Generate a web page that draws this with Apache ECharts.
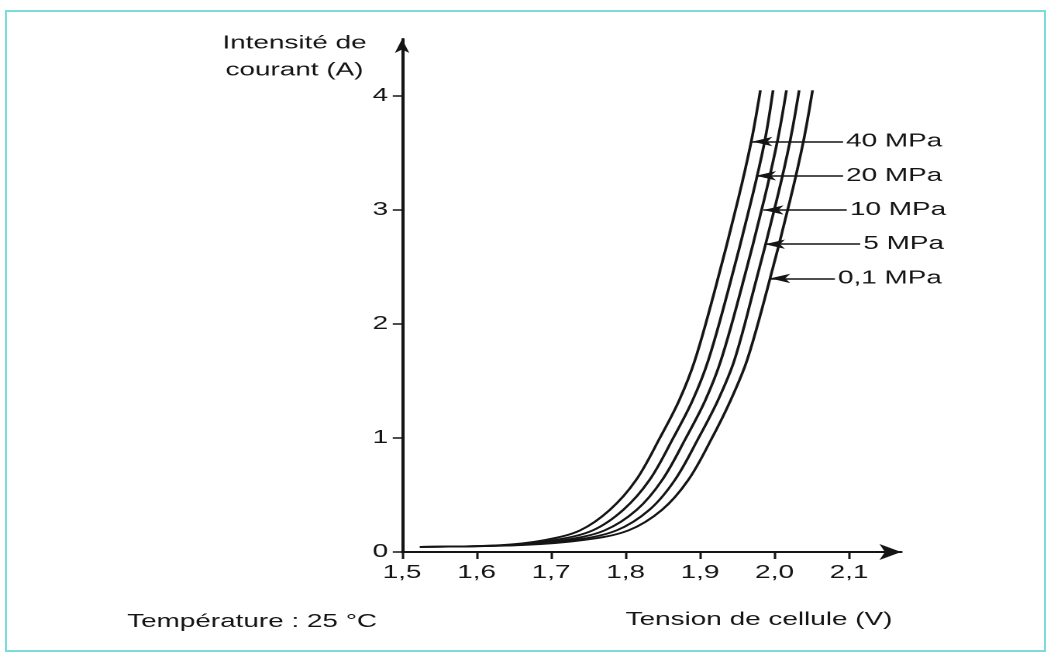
<!DOCTYPE html>
<html>
<head>
<meta charset="utf-8">
<script src="https://cdn.jsdelivr.net/npm/echarts@6/dist/echarts.min.js"></script>
<style>
  html, body { margin: 0; padding: 0; background: #fff; overflow: hidden; }
  #frame {
    position: absolute; left: 5px; top: 10px;
    width: 1041px; height: 642px;
    box-sizing: border-box;
    border: 2px solid #7adcdc;
  }
  /* the source picture is a horizontally stretched scan */
  #chart {
    position: absolute; left: 0; top: 0;
    width: 680px; height: 658px;
    transform: scaleX(1.55);
    transform-origin: 0 0;
  }
</style>
</head>
<body>
<div id="frame"></div>
<div id="chart"></div>
<script>
// current levels (A) at which each curve was read
const currentLevels = [0.045, 0.06, 0.105, 0.19, 0.37, 0.63, 1.0, 1.33, 1.68, 2.30, 3.09, 3.61, 4.05]
// cell voltage (V) of each curve at those levels
const voltage40 = [1.524, 1.632, 1.692, 1.739, 1.779, 1.814, 1.846, 1.872, 1.893, 1.920, 1.951, 1.969, 1.981]
const voltage20 = [1.524, 1.639, 1.705, 1.756, 1.797, 1.832, 1.864, 1.890, 1.911, 1.938, 1.969, 1.987, 1.998]
const voltage10 = [1.524, 1.646, 1.718, 1.772, 1.815, 1.849, 1.881, 1.907, 1.928, 1.955, 1.986, 2.004, 2.016]
const voltage5 = [1.524, 1.653, 1.731, 1.788, 1.832, 1.866, 1.898, 1.924, 1.946, 1.972, 2.003, 2.021, 2.033]
const voltage01 = [1.524, 1.660, 1.744, 1.804, 1.849, 1.884, 1.916, 1.941, 1.963, 1.990, 2.021, 2.039, 2.051]

const pressures = ["40 MPa", "20 MPa", "10 MPa", "5 MPa", "0,1 MPa"]
const labelCurrent = [3.6, 3.3, 3.0, 2.7, 2.4]
const arrowTipVoltage = [1.970, 1.975, 1.985, 1.987, 1.994]
const arrowTailVoltage = [2.092, 2.092, 2.097, 2.115, 2.081]

const xTicks = [1.5, 1.6, 1.7, 1.8, 1.9, 2.0, 2.1]
const yTicks = [0, 1, 2, 3, 4]

const FONT = "'Liberation Sans', Arial, sans-serif"
const INK = "#151515"

const curves = [voltage40, voltage20, voltage10, voltage5, voltage01]

const chart = echarts.init(document.getElementById("chart"), null, { devicePixelRatio: 2 })

const series = curves.map((volts, i) => ({
  name: pressures[i],
  type: "line",
  data: volts.map((v, k) => [v, currentLevels[k]]),
  smooth: 0.35,
  showSymbol: false,
  silent: true,
  lineStyle: { color: INK, width: 1.8 },
  markLine: {
    silent: true,
    symbol: ["none", "arrow"],
    symbolSize: [7, 13],
    lineStyle: { color: INK, width: 1.6, type: "solid" },
    label: {
      show: true,
      position: "start",
      distance: 2,
      color: INK,
      fontFamily: FONT,
      fontSize: 18,
      formatter: pressures[i],
    },
    data: [
      [
        { coord: [arrowTailVoltage[i], labelCurrent[i]] },
        { coord: [arrowTipVoltage[i], labelCurrent[i]] },
      ],
    ],
  },
}))

const option = {
  backgroundColor: "transparent",
  animation: false,
  grid: { left: 259.4, right: 98.6, top: 39, bottom: 106 },
  xAxis: {
    type: "value",
    min: 1.5,
    max: 2.17,
    axisLine: {
      show: true,
      symbol: ["none", "arrow"],
      symbolSize: [12, 14],
      lineStyle: { color: INK, width: 2 },
    },
    axisTick: {
      show: true,
      length: 7,
      customValues: xTicks,
      lineStyle: { color: INK, width: 1.5 },
    },
    axisLabel: {
      customValues: xTicks,
      margin: 12,
      color: INK,
      fontFamily: FONT,
      fontSize: 18,
      formatter: (v) => v.toFixed(1).replace(".", ","),
    },
    splitLine: { show: false },
  },
  yAxis: {
    type: "value",
    min: 0,
    max: 4.5,
    axisLine: {
      show: true,
      symbol: ["none", "arrow"],
      symbolSize: [7, 14],
      lineStyle: { color: INK, width: 2 },
    },
    axisTick: {
      show: true,
      length: 6,
      customValues: yTicks,
      lineStyle: { color: INK, width: 1.5 },
    },
    axisLabel: {
      customValues: yTicks,
      margin: 9,
      color: INK,
      fontFamily: FONT,
      fontSize: 18,
    },
    splitLine: { show: false },
  },
  graphic: [
    {
      type: "text",
      x: 190,
      y: 57,
      silent: true,
      style: {
        text: "Intensité de\ncourant (A)",
        font: "18px " + FONT,
        lineHeight: 27,
        fill: INK,
        textAlign: "center",
        textVerticalAlign: "middle",
      },
    },
    {
      type: "text",
      x: 489.7,
      y: 620,
      silent: true,
      style: {
        text: "Tension de cellule (V)",
        font: "18px " + FONT,
        fill: INK,
        textAlign: "center",
        textVerticalAlign: "middle",
      },
    },
    {
      type: "text",
      x: 82,
      y: 622,
      silent: true,
      style: {
        text: "Température : 25 °C",
        font: "18px " + FONT,
        fill: INK,
        textAlign: "left",
        textVerticalAlign: "middle",
      },
    },
  ],
  series: series,
}

chart.setOption(option)
</script>
</body>
</html>
